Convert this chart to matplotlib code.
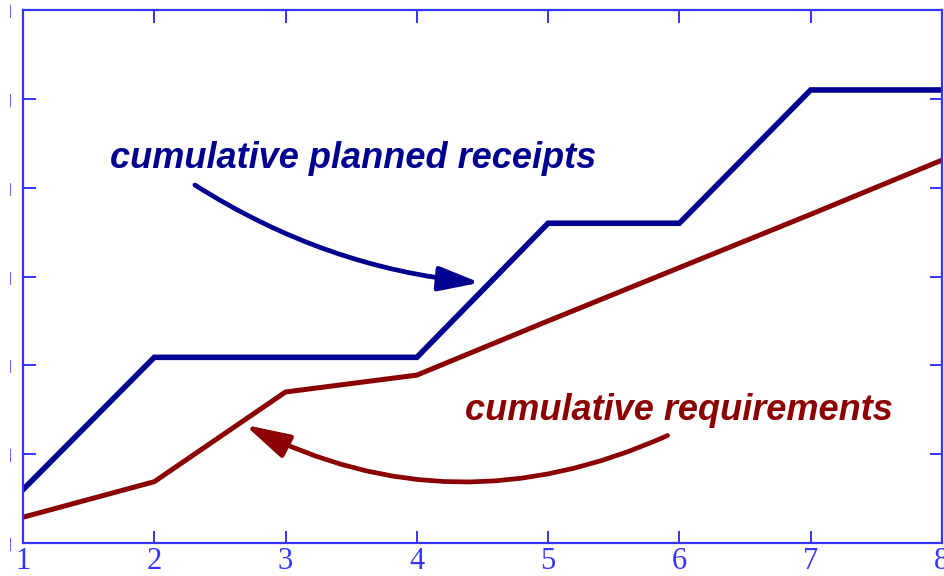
import matplotlib
matplotlib.use("Agg")
import matplotlib.pyplot as plt

NAVY = "#000090"
DARK_RED = "#8B0000"
FRAME = "#3535FF"

periods = [1, 2, 3, 4, 5, 6, 7, 8]
planned_receipts = [0.60, 2.09, 2.09, 2.09, 3.60, 3.60, 5.10, 5.10]
requirements = [0.29, 0.69, 1.70, 1.89, 2.50, 3.10, 3.70, 4.31]

x_ticks = [1, 2, 3, 4, 5, 6, 7, 8]
y_ticks = [0, 1, 2, 3, 4, 5, 6]

fig = plt.figure(figsize=(9.45, 5.76), dpi=100)
ax = fig.add_axes([0.0243, 0.0573, 0.9725, 0.9253])

ax.plot(periods, planned_receipts, color=NAVY, linewidth=4.0, solid_joinstyle="miter")
ax.plot(periods, requirements, color=DARK_RED, linewidth=3.6, solid_joinstyle="miter")

ax.set_xlim(1, 8)
ax.set_ylim(0, 6)
ax.set_xticks(x_ticks)
ax.set_xticklabels([str(t) for t in x_ticks], family="Liberation Serif", fontsize=22, color=FRAME)
ax.set_yticks(y_ticks)
ax.set_yticklabels(["|"] * len(y_ticks), family="Liberation Serif", fontsize=10, color=FRAME)

ax.tick_params(axis="both", direction="in", length=9, width=1.4, color=FRAME,
               top=True, right=True)
ax.tick_params(axis="x", pad=3)
ax.tick_params(axis="y", pad=8)
for s in ax.spines.values():
    s.set_color(FRAME)
    s.set_linewidth(1.6)

# labels with curved arrows
ax.text(1.66, 4.33, "cumulative planned receipts", color=NAVY, fontsize=26,
        family="Liberation Sans", fontweight="bold", fontstyle="italic", va="center")
ax.annotate("", xy=(4.48, 2.93), xytext=(2.31, 4.03),
            arrowprops=dict(arrowstyle="-|>,head_length=1.0,head_width=0.3",
                            connectionstyle="arc3,rad=0.12", color=NAVY, lw=3.4,
                            mutation_scale=25, shrinkA=0, shrinkB=0))

ax.text(4.37, 1.49, "cumulative requirements", color=DARK_RED, fontsize=26,
        family="Liberation Sans", fontweight="bold", fontstyle="italic", va="center")
ax.annotate("", xy=(2.69, 1.33), xytext=(5.91, 1.21),
            arrowprops=dict(arrowstyle="-|>,head_length=1.1,head_width=0.3",
                            connectionstyle="arc3,rad=-0.24", color=DARK_RED, lw=3.4,
                            mutation_scale=25, shrinkA=0, shrinkB=0))

fig.savefig("out.png", dpi=100)
